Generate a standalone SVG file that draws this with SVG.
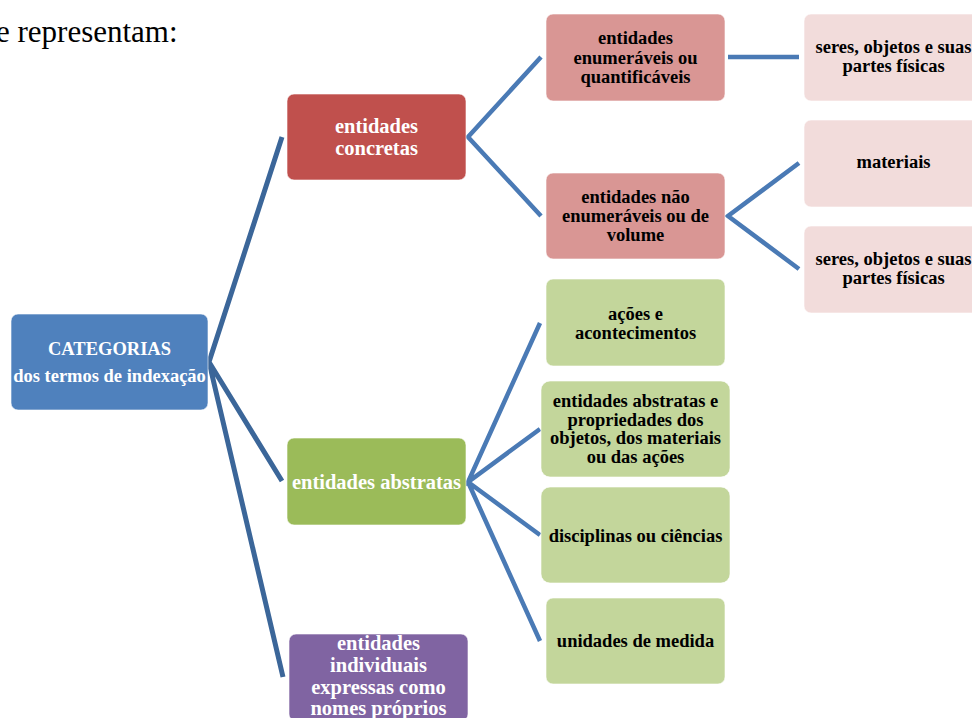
<svg xmlns="http://www.w3.org/2000/svg" width="972" height="718" viewBox="0 0 972 718">
<style>
text{font-family:"Liberation Serif","Times New Roman",serif;font-weight:bold;text-anchor:middle}
.box{stroke:#ffffff;stroke-opacity:0.6;stroke-width:1}
.t0{font-size:18.5px;fill:#fff}
.t1{font-size:20.5px;fill:#fff}
.t2{font-size:18.5px;fill:#000}
.c1{stroke:#3B6699;stroke-width:5;fill:none;stroke-linejoin:miter}
.c2{stroke:#4A7AB5;stroke-width:4.5;fill:none}
</style>
<text x="-4" y="42" style="font-weight:normal;text-anchor:start;font-size:31px;fill:#000">e representam:</text>
<g id="connectors">
<path class="c1" d="M282,137 L209,362 L282,481 M209,362 L283,677"/>
<path class="c2" d="M541,57 L468,137 L541,216"/>
<path class="c2" d="M728,57 L799,57"/>
<path class="c2" d="M799,163 L728,216 L799,269"/>
<path class="c2" d="M540,323 L468,482 L540,429 M468,482 L540,535 M468,482 L540,641"/>
</g>
<g id="root">
<rect class="box" x="11" y="314" width="197" height="96" rx="7" fill="#4F81BD"/>
<text class="t0" x="109.5" y="355">CATEGORIAS</text>
<text class="t0" x="109.5" y="382">dos termos de indexação</text>
</g>
<g id="concretas">
<rect class="box" x="287" y="94" width="179" height="86" rx="7" fill="#C0504D"/>
<text class="t1" x="376.5" y="133">entidades</text>
<text class="t1" x="376.5" y="155">concretas</text>
</g>
<g id="abstratas">
<rect class="box" x="287" y="438" width="179" height="87" rx="7" fill="#9BBB59"/>
<text class="t1" x="376.5" y="489">entidades  abstratas</text>
</g>
<g id="individuais">
<rect class="box" x="289" y="634" width="179" height="87" rx="7" fill="#8064A2"/>
<text class="t1" x="378.5" y="650">entidades</text>
<text class="t1" x="378.5" y="672">individuais</text>
<text class="t1" x="378.5" y="694">expressas como</text>
<text class="t1" x="378.5" y="715">nomes próprios</text>
</g>
<g id="enumeraveis">
<rect class="box" x="546" y="14" width="179" height="87" rx="7" fill="#D99694"/>
<text class="t2" x="635.5" y="44">entidades</text>
<text class="t2" x="635.5" y="63.5">enumeráveis ou</text>
<text class="t2" x="635.5" y="83">quantificáveis</text>
</g>
<g id="nao-enumeraveis">
<rect class="box" x="546" y="173" width="179" height="86" rx="7" fill="#D99694"/>
<text class="t2" x="635.5" y="203">entidades não</text>
<text class="t2" x="635.5" y="222">enumeráveis ou de</text>
<text class="t2" x="635.5" y="241">volume</text>
</g>
<g id="seres1">
<rect class="box" x="804" y="14" width="179" height="87" rx="7" fill="#F2DCDB"/>
<text class="t2" x="893.5" y="53">seres, objetos e suas</text>
<text class="t2" x="893.5" y="72">partes físicas</text>
</g>
<g id="materiais">
<rect class="box" x="804" y="120" width="179" height="87" rx="7" fill="#F2DCDB"/>
<text class="t2" x="893.5" y="168">materiais</text>
</g>
<g id="seres2">
<rect class="box" x="804" y="226" width="179" height="87" rx="7" fill="#F2DCDB"/>
<text class="t2" x="893.5" y="265">seres, objetos e suas</text>
<text class="t2" x="893.5" y="284">partes físicas</text>
</g>
<g id="acoes">
<rect class="box" x="546" y="279" width="179" height="87" rx="7" fill="#C3D69B"/>
<text class="t2" x="635.5" y="320">ações e</text>
<text class="t2" x="635.5" y="338.5">acontecimentos</text>
</g>
<g id="entidades-abstratas-prop">
<rect class="box" x="541" y="381" width="189" height="96" rx="9" fill="#C3D69B"/>
<text class="t2" x="635.5" y="407">entidades abstratas e</text>
<text class="t2" x="635.5" y="425.5">propriedades dos</text>
<text class="t2" x="635.5" y="444">objetos, dos materiais</text>
<text class="t2" x="635.5" y="463">ou das ações</text>
</g>
<g id="disciplinas">
<rect class="box" x="541" y="487" width="189" height="96" rx="9" fill="#C3D69B"/>
<text class="t2" x="635.5" y="542">disciplinas ou ciências</text>
</g>
<g id="unidades">
<rect class="box" x="546" y="598" width="179" height="86" rx="7" fill="#C3D69B"/>
<text class="t2" x="635.5" y="647">unidades de medida</text>
</g>
</svg>
